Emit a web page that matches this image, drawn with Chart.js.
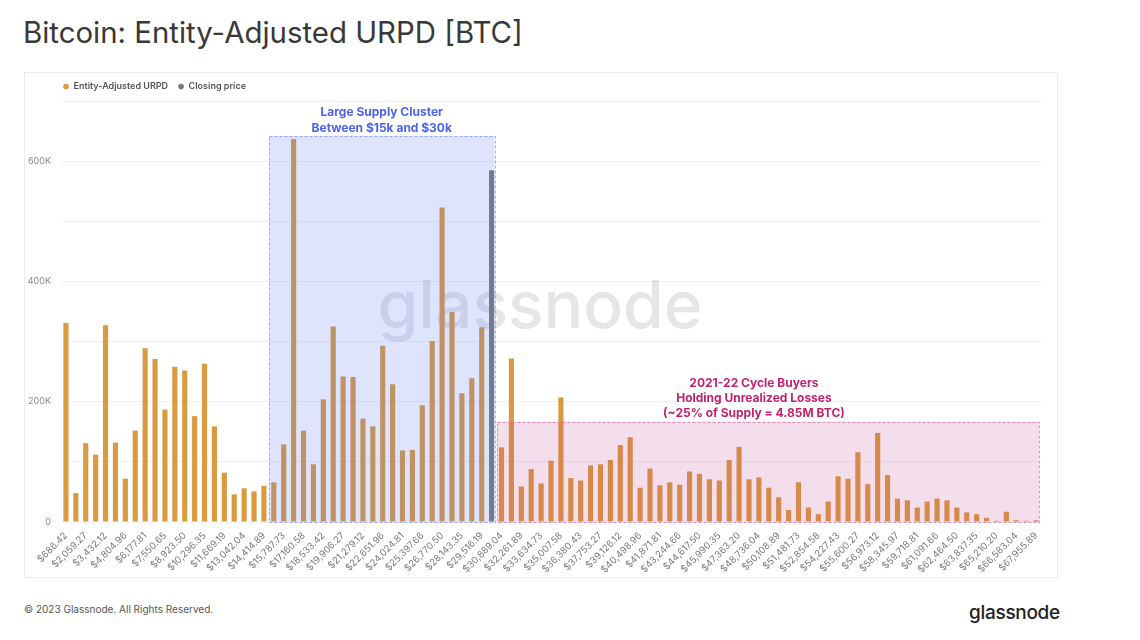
<!DOCTYPE html>
<html>
<head>
<meta charset="utf-8">
<script src="https://cdn.jsdelivr.net/npm/chart.js@4.4.1/dist/chart.umd.min.js"></script>
<style>
  html, body { margin:0; padding:0; background:#ffffff; width:1140px; height:640px; overflow:hidden; font-family:Inter, "Noto Sans", sans-serif; }
  #title { position:absolute; left:23px; top:13px; font-size:29.4px; line-height:40px; color:#383838; font-weight:400; white-space:nowrap; }
  #card { position:absolute; left:24px; top:72px; width:1034px; height:506px; border:1px solid #ececec; box-sizing:border-box; }
  #wrap { position:absolute; left:24px; top:72px; width:1034px; height:506px; }
  #foot { position:absolute; left:24px; top:602px; font-size:10px; line-height:14px; color:#555; white-space:nowrap; }
  #logo { position:absolute; left:969px; top:600px; font-size:19px; line-height:26px; font-weight:500; color:#222; letter-spacing:-0.3px; white-space:nowrap; }
</style>
</head>
<body>
<div id="title">Bitcoin: Entity-Adjusted URPD [BTC]</div>
<div id="card"></div>
<div id="wrap"><canvas id="c" width="1034" height="506"></canvas></div>
<div id="foot">© 2023 Glassnode. All Rights Reserved.</div>
<div id="logo">glassnode</div>
<script>
// ---------- DATA ----------
const categories = [
  "$686.42","$1,372.85","$2,059.27","$2,745.69","$3,432.12","$4,118.54","$4,804.96","$5,491.38","$6,177.81","$6,864.23",
  "$7,550.65","$8,237.08","$8,923.50","$9,609.92","$10,296.35","$10,982.77","$11,669.19","$12,355.61","$13,042.04","$13,728.46",
  "$14,414.89","$15,101.31","$15,787.73","$16,474.15","$17,160.58","$17,847.00","$18,533.42","$19,219.84","$19,906.27","$20,592.69",
  "$21,279.12","$21,965.54","$22,651.96","$23,338.38","$24,024.81","$24,711.23","$25,397.66","$26,084.08","$26,770.50","$27,456.92",
  "$28,143.35","$28,829.77","$29,516.19","$30,202.61","$30,889.04","$31,575.46","$32,261.89","$32,948.31","$33,634.73","$34,321.15",
  "$35,007.58","$35,694.00","$36,380.43","$37,066.85","$37,753.27","$38,439.69","$39,126.12","$39,812.54","$40,498.96","$41,185.38",
  "$41,871.81","$42,558.23","$43,244.66","$43,931.08","$44,617.50","$45,303.92","$45,990.35","$46,676.77","$47,363.20","$48,049.62",
  "$48,736.04","$49,422.46","$50,108.89","$50,795.31","$51,481.73","$52,168.15","$52,854.58","$53,541.00","$54,227.43","$54,913.85",
  "$55,600.27","$56,286.69","$56,973.12","$57,659.54","$58,345.97","$59,032.39","$59,718.81","$60,405.23","$61,091.66","$61,778.08",
  "$62,464.50","$63,150.92","$63,837.35","$64,523.77","$65,210.20","$65,896.62","$66,583.04","$67,269.46","$67,955.89"
];

const urpdValues = [
  331000, 48000, 131000, 112000, 327000, 132000, 72000, 152000, 289000, 271000,
  187000, 258000, 252000, 176000, 263000, 159000, 82000, 46000, 56000, 51000,
  60000, 66000, 129000, 637000, 152000, 96000, 204000, 325000, 242000, 241000,
  172000, 159000, 293000, 229000, 119000, 120000, 194000, 301000, 523000, 349000,
  214000, 239000, 324000, null, 124000, 272000, 59000, 88000, 64000, 102000,
  207000, 73000, 69000, 94000, 96000, 103000, 128000, 141000, 57000, 89000,
  61000, 66000, 62000, 84000, 80000, 71000, 69000, 103000, 125000, 71000,
  74000, 57000, 41000, 20000, 66000, 24000, 13000, 34000, 76000, 72000,
  116000, 63000, 148000, 78000, 39000, 36000, 24000, 34000, 39000, 36000,
  24000, 16000, 13000, 7000, 2000, 17000, 3000, 2000, 3000
];

const closingPriceLabel = "$30,202.61";
const closingPriceValue = 585000;
const closingPriceBar = categories.map(c => (c === closingPriceLabel ? closingPriceValue : null));

const yTickValues = [0, 200000, 400000, 600000];
const yTickLabels = ["0", "200K", "400K", "600K"];

const clusterRange = { from: "$15,101.31", to: "$30,202.61", top: 642000 };
const lossRange    = { from: "$30,889.04", to: "$67,955.89", top: 167000 };
const clusterText  = ["Large Supply Cluster", "Between $15k and $30k"];
const lossText     = ["2021-22 Cycle Buyers", "Holding Unrealized Losses", "(~25% of Supply = 4.85M BTC)"];

// ---------- DRAWING ----------
const FONT = "Inter, 'Noto Sans', sans-serif";

const overlayPlugin = {
  id: 'overlay',
  afterLayout(chart) {
    if (chart.legend) { chart.legend.left += 29; chart.legend.right += 29; }
  },
  beforeDatasetsDraw(chart) {
    const { ctx, chartArea } = chart;
    ctx.save();
    ctx.font = "500 66px " + FONT;
    ctx.fillStyle = "rgba(120,122,132,0.19)";
    ctx.textAlign = "center";
    ctx.textBaseline = "middle";
    ctx.fillText("glassnode", chartArea.left + 479, chartArea.top + 207);
    ctx.restore();
  },
  afterDatasetsDraw(chart) {
    const { ctx, scales: { x, y } } = chart;
    const idx = (lab) => categories.indexOf(lab);
    function box(r, fill, stroke) {
      const x0 = x.getPixelForValue(idx(r.from) - 0.5);
      const x1 = x.getPixelForValue(idx(r.to) + 0.3);
      const y0 = y.getPixelForValue(r.top);
      const y1 = y.getPixelForValue(0);
      ctx.save();
      ctx.fillStyle = fill;
      ctx.fillRect(x0, y0, x1 - x0, y1 - y0);
      ctx.setLineDash([3, 2]);
      ctx.lineWidth = 1;
      ctx.strokeStyle = stroke;
      ctx.strokeRect(Math.round(x0) + 0.5, Math.round(y0) + 0.5, Math.round(x1 - x0), Math.round(y1 - y0));
      ctx.restore();
      return [x0, x1, y0];
    }
    const b1 = box(clusterRange, "rgba(90,120,245,0.2)", "rgba(120,145,240,0.7)");
    const b2 = box(lossRange, "rgba(190,50,130,0.16)", "rgba(215,120,175,0.8)");

    ctx.save();
    ctx.font = "700 12px " + FONT;
    ctx.textAlign = "center";
    ctx.textBaseline = "middle";
    ctx.fillStyle = "#4b63f0";
    const cx1 = (b1[0] + b1[1]) / 2;
    clusterText.forEach((t, i) => ctx.fillText(t, cx1, b1[2] - 23 + i * 16));
    ctx.fillStyle = "#c4226e";
    const cx2 = x.getPixelForValue(69.5);
    lossText.forEach((t, i) => ctx.fillText(t, cx2, b2[2] - 38 + i * 15));
    ctx.restore();
  }
};

new Chart(document.getElementById('c'), {
  type: 'bar',
  data: {
    labels: categories,
    datasets: [
      {
        label: 'Entity-Adjusted URPD',
        data: urpdValues,
        backgroundColor: '#d99a40',
        barPercentage: 0.52,
        categoryPercentage: 1,
        grouped: false
      },
      {
        label: 'Closing price',
        data: closingPriceBar,
        backgroundColor: '#777a80',
        barPercentage: 0.52,
        categoryPercentage: 1,
        grouped: false
      }
    ]
  },
  options: {
    responsive: false,
    animation: false,
    layout: { padding: { left: 0, right: 17, top: 0, bottom: 0 } },
    plugins: {
      tooltip: { enabled: false },
      legend: {
        position: 'top',
        align: 'start',
        labels: {
          usePointStyle: true,
          pointStyle: 'circle',
          boxWidth: 6,
          boxHeight: 4,
          padding: 10,
          color: '#555',
          font: { family: FONT, size: 9, weight: '600' }
        }
      }
    },
    scales: {
      x: {
        grid: { display: false, drawTicks: false },
        border: { display: false },
        afterFit(s) { s.height = 56; },
        ticks: {
          autoSkip: false,
          minRotation: 45,
          maxRotation: 45,
          padding: 8,
          color: '#777',
          font: { family: FONT, size: 9.5 },
          callback: (v, i) => (i % 2 === 0 ? categories[i] : '')
        }
      },
      y: {
        min: 0,
        max: 700000,
        afterFit(s) { s.width = 37; },
        grid: { color: '#f1f1f1', drawTicks: false, lineWidth: 1 },
        border: { display: false },
        ticks: {
          stepSize: 100000,
          autoSkip: false,
          padding: 10,
          color: '#888',
          font: { family: FONT, size: 9 },
          callback: (v) => { const k = yTickValues.indexOf(v); return k >= 0 ? yTickLabels[k] : ''; }
        }
      }
    }
  },
  plugins: [overlayPlugin]
});
</script>
</body>
</html>
